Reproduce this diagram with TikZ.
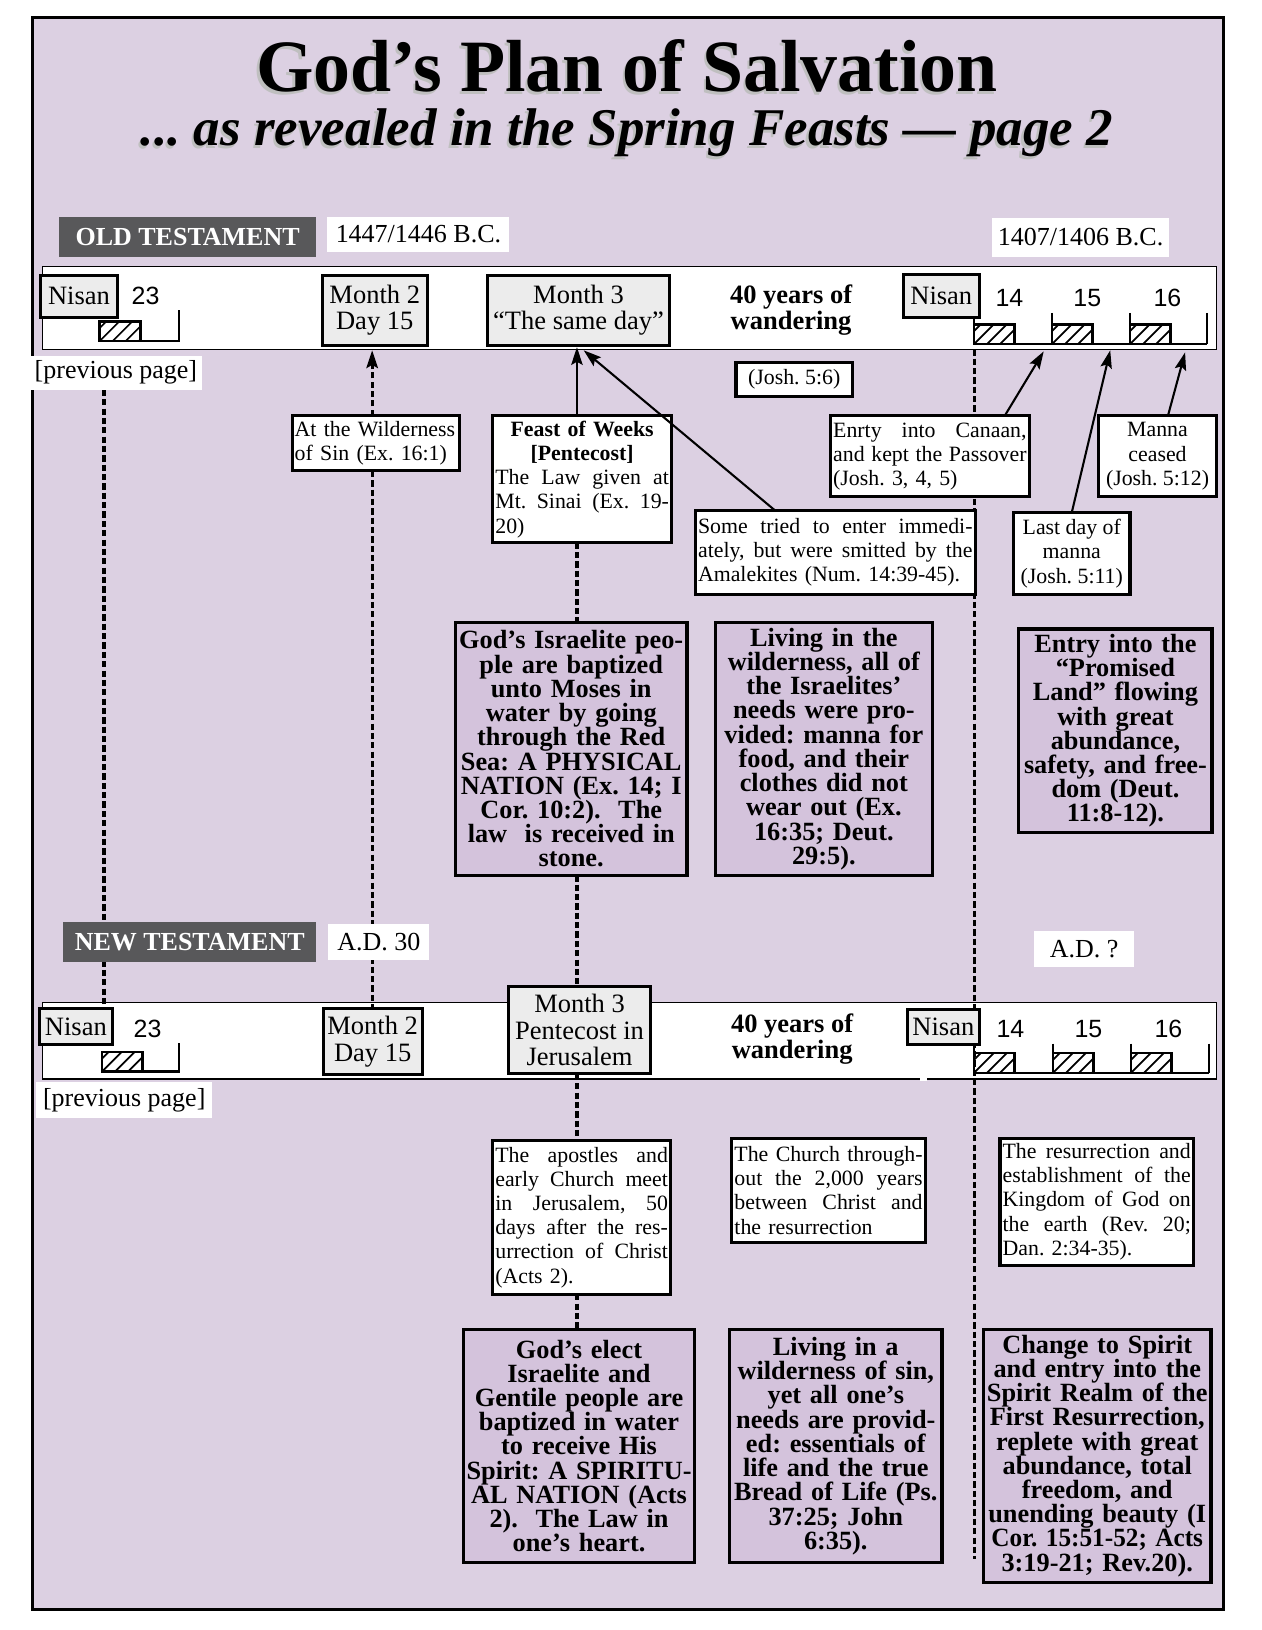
\documentclass[tikz,border=0pt]{standalone}
\usepackage{fontspec}
\setmainfont{Liberation Serif}
\newfontfamily\numfont{Liberation Sans}
\usetikzlibrary{arrows.meta,calc}
\definecolor{lav}{RGB}{220,208,226}
\definecolor{lavbox}{RGB}{212,195,220}
\definecolor{nisangray}{RGB}{236,236,236}
\definecolor{hdr}{RGB}{88,88,90}
\pgfdeclarelayer{back}
\pgfdeclarelayer{mid}
\pgfsetlayers{back,mid,main}
\frenchspacing
\newcommand\JL[1]{\leavevmode\hbox to\hsize{\spaceskip=\fontdimen2\font plus 1fil\relax #1}}
\newcommand\CL[1]{\makebox[\hsize][c]{#1}}
\newcommand\hatchbox[2]{%
  \begin{scope}
    \clip (#1,#2) rectangle ++(39,19);
    \foreach \k in {-1,0,1,2,3}{\draw[line width=1.6pt] (#1+\k*12.5,#2+19) -- ++(19,-19);}
  \end{scope}
  \draw[line width=2.5pt] (#1,#2) rectangle ++(39,19);}
\tikzset{
  every node/.style={inner sep=0pt, outer sep=0pt},
  fsmall/.style={font=\fontsize{21}{23.3}\selectfont},
  fbig/.style={font=\fontsize{25.3}{23.3}\selectfont\bfseries},
  wbox/.style={draw, line width=3pt, fill=white, inner xsep=2.5pt, anchor=north west, fsmall},
  bbox/.style={draw, line width=3.2pt, fill=lavbox, inner xsep=1pt, anchor=north west, fbig, align=center,
     execute at begin node={\lineskiplimit=-100pt\relax\lineskip=0pt\relax}},
  gbox/.style={draw, line width=3pt, fill=nisangray, anchor=north west, inner xsep=2pt, font=\fontsize{25.5}{25.5}\selectfont, align=center},
  plainw/.style={fill=white, anchor=north west, font=\fontsize{25}{25}\selectfont},
  hdrbox/.style={fill=hdr, text=white, anchor=north west, font=\fontsize{25}{25}\selectfont\bfseries},
  num/.style={font=\numfont\fontsize{24}{24}\selectfont},
  wander/.style={font=\fontsize{25.5}{25}\selectfont\bfseries, align=center},
  dline/.style={line width=3pt, dash pattern=on 6pt off 3pt},
  arr/.style={line width=2pt, -{Stealth[length=17pt,width=11pt,inset=3pt]}},
  tick/.style={line width=2.5pt},
  titlefont/.style={font=\fontsize{71}{71}\selectfont\bfseries, anchor=base},
  subfont/.style={font=\fontsize{51}{51}\selectfont\bfseries\itshape, anchor=base},
}
\begin{document}
\begin{tikzpicture}[x=1pt,y=-1pt]
\useasboundingbox (0,0) rectangle (1214,1568);
\begin{pgfonlayer}{back}
  \fill[white] (0,0) rectangle (1214,1568);
  \draw[line width=3pt, fill=lav] (31,17) rectangle (1177,1548);
  \node[draw, line width=1.2pt, fill=white, anchor=north west, minimum width=1129pt, minimum height=80pt] (bandOT) at (41,256) {};
  \node[draw, line width=1.2pt, fill=white, anchor=north west, minimum width=1129pt, minimum height=74pt] (bandNT) at (41,964) {};
  \fill[white] (885,1032) rectangle (892,1040);
\end{pgfonlayer}

% titles
\node[titlefont, text=black!25] (titleS) at (601,90.5) {God’s Plan of Salvation};
\node[titlefont] (title) at (603,88) {God’s Plan of Salvation};
\node[subfont, text=black!25] (subS) at (601,142.5) {... as revealed in the Spring Feasts — page 2};
\node[subfont] (sub) at (603,140) {... as revealed in the Spring Feasts — page 2};

% headers
\node[hdrbox, minimum width=247pt, minimum height=38pt] (otH) at (57,209) {OLD TESTAMENT};
\node[plainw, minimum width=175pt, minimum height=33pt] (otY1) at (315,209) {1447/1446 B.C.};
\node[plainw, minimum width=171pt, minimum height=37pt] (otY2) at (954,210) {1407/1406 B.C.};
\node[hdrbox, minimum width=243pt, minimum height=38pt] (ntH) at (61,887) {NEW TESTAMENT};
\node[plainw, minimum width=97pt, minimum height=34pt] (ntY1) at (316,889) {A.D. 30};
\node[plainw, minimum width=96pt, minimum height=34pt] (ntY2) at (995,896) {A.D. ?};

% previous page labels
\node[plainw, minimum width=165pt, minimum height=33pt] (prevOT) at (29,342) {[previous page]};
\node[plainw, minimum width=169pt, minimum height=34pt] (prevNT) at (35,1041) {[previous page]};

% timeline brackets
\hatchbox{96}{309}
\draw[tick] (96,328) -- (172,328) -- (172,298);
\foreach \x in {937,1012,1087}{\hatchbox{\x}{312}}
\draw[tick] (937,331) -- (1161,331);
\draw[tick] (937,305) -- (937,331);
\foreach \x in {1012,1087,1161}{\draw[tick] (\x,301) -- (\x,331);}
\hatchbox{98}{1012}
\draw[tick] (98,1031) -- (172,1031) -- (172,1003);
\foreach \x in {937,1013,1088}{\hatchbox{\x}{1013}}
\draw[tick] (937,1032) -- (1163,1032);
\draw[tick] (937,1005) -- (937,1032);
\foreach \x in {1013,1088,1163}{\draw[tick] (\x,1004) -- (\x,1032);}

% month boxes
\node[gbox, minimum width=74pt, minimum height=40pt] (nisOT1) at (39,265) {Nisan};
\node[gbox, minimum width=73pt, minimum height=41pt] (nisOT2) at (869,264) {Nisan};
\node[gbox, minimum width=70pt, minimum height=35pt] (nisNT1) at (38,970) {Nisan};
\node[gbox, minimum width=69pt, minimum height=34pt] (nisNT2) at (873,971) {Nisan};
\node[gbox, minimum width=101pt, minimum height=67pt] (m2OT) at (310,265) {Month 2\\Day 15};
\node[gbox, minimum width=175pt, minimum height=67pt] (m3OT) at (469,265) {Month 3\\“The same day”};
\node[gbox, minimum width=95pt, minimum height=64pt] (m2NT) at (311,970) {Month 2\\Day 15};
\node[gbox, minimum width=137pt, minimum height=84pt] (m3NT) at (489,949) {Month 3\\Pentecost in\\Jerusalem};

% numbers
\node[num] (n23a) at (140,285) {23};
\node[num] (n14a) at (971,287) {14};
\node[num] (n15a) at (1046,287) {15};
\node[num] (n16a) at (1123,287) {16};
\node[num] (n23b) at (142,990) {23};
\node[num] (n14b) at (972,990) {14};
\node[num] (n15b) at (1047,990) {15};
\node[num] (n16b) at (1124,990) {16};
\node[wander] (w40OT) at (761,298) {40 years of\\wandering};
\node[wander] (w40NT) at (762,1000) {40 years of\\wandering};

% OT small boxes
\node[wbox, minimum width=112pt, minimum height=32pt, align=center] (josh56) at (708,349) {(Josh. 5:6)};
\node[wbox, minimum width=161pt, minimum height=53pt, text width=156pt, align=left] (wild) at (281,400) {At the Wilderness\\of Sin (Ex. 16:1)};
\node[wbox, minimum width=172pt, minimum height=122pt, text width=167pt, align=left] (feast) at (474,400) {\CL{\bfseries Feast of Weeks}\\\CL{\bfseries [Pentecost]}\\\JL{The Law given at}\\\JL{Mt. Sinai (Ex. 19-}\\20)};
\node[wbox, minimum width=269pt, minimum height=81pt, text width=264pt, align=left] (some) at (669,491) {\JL{Some tried to enter immedi-}\\\JL{ately, but were smitted by the}\\Amalekites (Num. 14:39-45).};
\node[wbox, minimum width=191pt, minimum height=78pt, text width=186pt, align=left] (enrty) at (799,400) {\JL{Enrty into Canaan,}\\\JL{and kept the Passover}\\(Josh. 3, 4, 5)};
\node[wbox, minimum width=113pt, minimum height=78pt, align=center] (manna) at (1057,400) {Manna\\ceased\\(Josh. 5:12)};
\node[wbox, minimum width=112pt, minimum height=79pt, align=center] (lastday) at (975,493) {Last day of\\manna\\(Josh. 5:11)};

% OT big boxes
\node[bbox, minimum width=223pt, minimum height=243pt, text width=221pt] (isr) at (438,599) {God’s Israelite peo-\\ple are baptized\\unto Moses in\\water by going\\through the Red\\Sea: A PHYSICAL\\NATION (Ex. 14; I\\Cor. 10:2).\ \ The\\law\ \ is received in\\stone.};
\node[bbox, minimum width=209pt, minimum height=243pt, text width=207pt] (liv1) at (688,599) {Living in the\\wilderness, all of\\the Israelites’\\needs were pro-\\vided: manna for\\food, and their\\clothes did not\\wear out (Ex.\\16:35; Deut.\\29:5).};
\node[bbox, minimum width=186pt, minimum height=196pt, text width=184pt] (entry) at (980,605) {Entry into the\\“Promised\\Land” flowing\\with great\\abundance,\\safety, and free-\\dom (Deut.\\11:8-12).};

% NT small boxes
\node[wbox, minimum width=171pt, minimum height=148pt, text width=166pt, align=left] (apo) at (474,1097) {\JL{The apostles and}\\\JL{early Church meet}\\\JL{in Jerusalem, 50}\\\JL{days after the res-}\\\JL{urrection of Christ}\\(Acts 2).};
\node[wbox, minimum width=186pt, minimum height=100pt, text width=181pt, align=left] (church) at (704,1095) {\JL{The Church through-}\\\JL{out the 2,000 years}\\\JL{between Christ and}\\the resurrection};
\node[wbox, minimum width=186pt, minimum height=122pt, text width=181pt, align=left] (resur) at (962,1095) {\JL{The resurrection and}\\\JL{establishment of the}\\\JL{Kingdom of God on}\\\JL{the earth (Rev. 20;}\\Dan. 2:34-35).};

% NT big boxes
\node[bbox, minimum width=222pt, minimum height=224pt, text width=220pt] (elect) at (446,1279) {God’s elect\\Israelite and\\Gentile people are\\baptized in water\\to receive His\\Spirit: A SPIRITU-\\AL NATION (Acts\\2).\ \ The Law in\\one’s heart.};
\node[bbox, minimum width=204pt, minimum height=224pt, text width=202pt] (liv2) at (702,1279) {Living in a\\wilderness of sin,\\yet all one’s\\needs are provid-\\ed: essentials of\\life and the true\\Bread of Life (Ps.\\37:25; John\\6:35).};
\node[bbox, minimum width=219pt, minimum height=243pt, text width=217pt] (change) at (946,1279) {Change to Spirit\\and entry into the\\Spirit Realm of the\\First Resurrection,\\replete with great\\abundance, total\\freedom, and\\unending beauty (I\\\scalebox{0.96}[1]{Cor. 15:51-52; Acts}\\3:19-21; Rev.20).};

% coordinates for connectors
\coordinate (cA) at (100,0);
\coordinate (cB) at (358,0);
\coordinate (cC) at (555,0);
\coordinate (cD) at (937,0);
\coordinate (dEnd) at (937,1500);
\coordinate (t14) at (1004,338);
\coordinate (t15) at (1068,337);
\coordinate (t16) at (1140,339);

\begin{pgfonlayer}{mid}
  \draw[dline] (cA |- prevOT.south) -- (cA |- nisNT1.north);
  \draw[dline] (cB |- wild.south) -- (cB |- m2NT.north);
  \draw[dline] (cC |- feast.south) -- (cC |- isr.north);
  \draw[dline] (cC |- isr.south) -- (cC |- m3NT.north);
  \draw[dline] (cC |- m3NT.south) -- (cC |- apo.north);
  \draw[dline] (cC |- apo.south) -- (cC |- elect.north);
  \draw[dline] (cD |- bandOT.south) -- (dEnd);
\end{pgfonlayer}

% arrows
\draw[arr, dash pattern=on 6pt off 3pt, line width=3pt, shorten >=5pt] (cB |- wild.north) -- (cB |- m2OT.south);
\draw[arr, shorten >=2pt] (cC |- feast.north) -- (cC |- m3OT.south);
\draw[arr] ($(some.north)+(-58,0)$) -- ($(m3OT.south)+(5,5)$);
\draw[arr] ($(enrty.north)+(72,0)$) -- (t14);
\draw[arr] (lastday.north) -- (t15);
\draw[arr] ($(manna.north)+(10,0)$) -- (t16);
\end{tikzpicture}
\end{document}
